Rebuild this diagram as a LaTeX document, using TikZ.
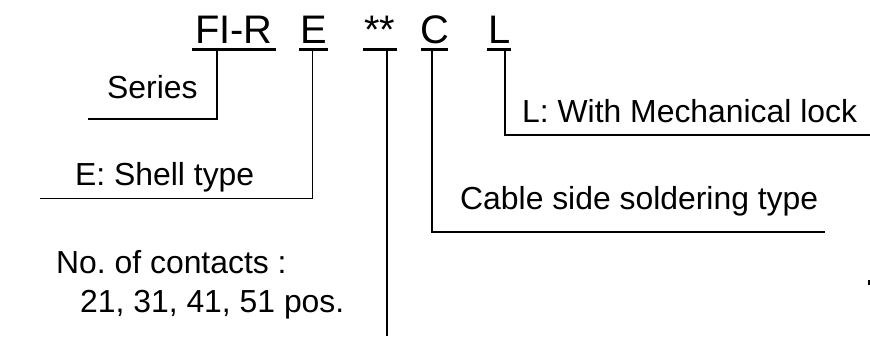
\documentclass[tikz,border=0pt]{standalone}
\usepackage{fontspec}
\setmainfont{Liberation Sans}
\frenchspacing
\begin{document}
\begin{tikzpicture}[x=1bp,y=-1bp,
  lbl/.style={anchor=base west,inner sep=0pt,font=\fontsize{32}{38}\selectfont},
  code/.style={anchor=base,inner sep=0pt,font=\fontsize{40}{46}\selectfont},
  uline/.style={line width=2.5bp},
  leader/.style={line width=1.3bp}]
\useasboundingbox (0,0) rectangle (870,338);
% top code letters
\node[code] (fir) at (234,43) {FI-R};
\node[code] (e) at (313.5,43) {E};
\node[code] (ast) at (380,43) {**};
\node[code] (c) at (434.5,43) {C};
\node[code] (l) at (500,43) {L};
% underlines
\draw[uline] (192,49.5) -- (276,49.5);
\draw[uline] (299,49.5) -- (328,49.5);
\draw[uline] (363,49.5) -- (397,49.5);
\draw[uline] (421,49.5) -- (448,49.5);
\draw[uline] (487,49.5) -- (511,49.5);
% anchor coordinates under the underlines
\coordinate (firb) at (217,51);
\coordinate (eb) at (312.5,51);
\coordinate (astb) at (387,51);
\coordinate (cb) at (432,51);
\coordinate (lb) at (505,51);
% labels
\node[lbl] (series) at (107,98.5) {Series};
\node[lbl] (shell) at (75,185) {E: Shell type};
\node[lbl] (cont1) at (56,273) {No. of contacts :};
\node[lbl] (cont2) at (80,312) {21, 31, 41, 51 pos.};
\node[lbl] (lock) at (522,122) {L: With Mechanical lock};
\node[lbl] (cable) at (460,209) {Cable side soldering type};
% leader ends
\coordinate (seriesend) at (88,119);
\coordinate (shellend) at (40,198.5);
\coordinate (astend) at (387,336);
\coordinate (cableend) at (825,232);
\coordinate (lockend) at (870,135);
% leaders
\draw[leader] (firb) |- (seriesend);
\draw[leader] (eb) |- (shellend);
\draw[leader] (astb) -- (astend);
\draw[leader] (cb) |- (cableend);
\draw[leader] (lb) |- (lockend);
% small tick at right edge
\coordinate (tick1) at (869,280);
\coordinate (tick2) at (869,285);
\draw[leader] (tick1) -- (tick2);
\end{tikzpicture}
\end{document}
